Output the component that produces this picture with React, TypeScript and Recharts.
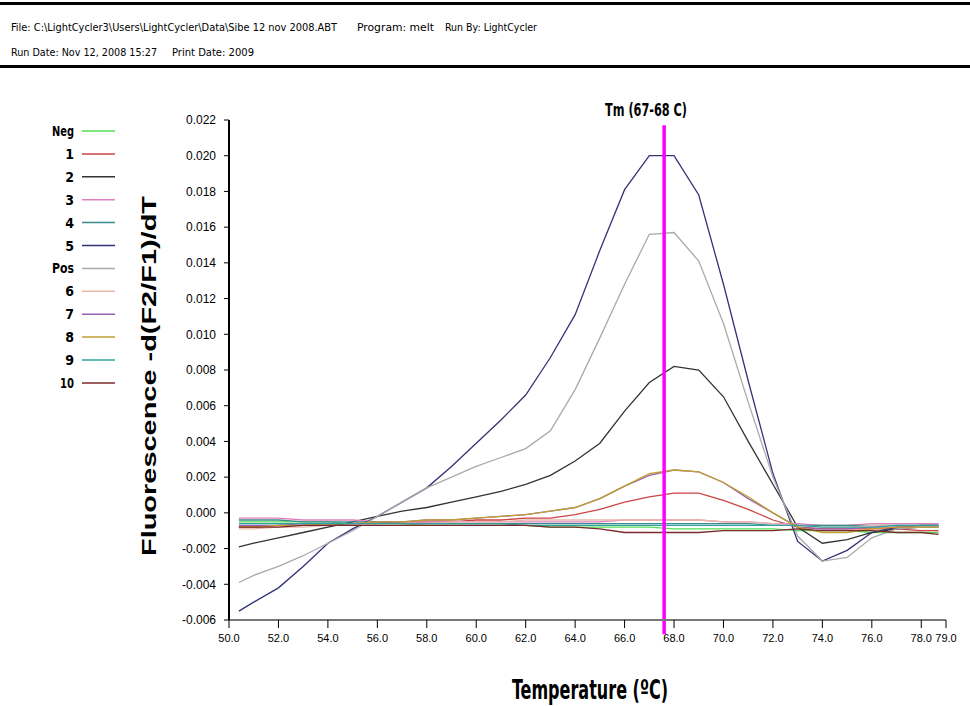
import { LineChart, Line, XAxis, YAxis, ReferenceLine } from "recharts";

// temperature (°C) of each melt reading
const temps = [50.4, 51, 52, 53, 54, 55, 56, 57, 58, 59, 60, 61, 62, 63, 64, 65, 66, 67, 68, 69, 70, 71, 72, 73, 74, 75, 76, 77, 78, 78.7];

const neg = [-0.0005, -0.0005, -0.0005, -0.0005, -0.0005, -0.0006, -0.0006, -0.0006, -0.0007, -0.0007, -0.0007, -0.0007, -0.0007, -0.0008, -0.0008, -0.0008, -0.0008, -0.0008, -0.0009, -0.0009, -0.0009, -0.0009, -0.0009, -0.001, -0.001, -0.001, -0.0011, -0.0011, -0.0011, -0.0011];
const s1 = [-0.0008, -0.0008, -0.0007, -0.0007, -0.0007, -0.0006, -0.0006, -0.0005, -0.0005, -0.0005, -0.0004, -0.0004, -0.0003, -0.0003, -0.0001, 0.0002, 0.0006, 0.0009, 0.0011, 0.0011, 0.0007, 0.0002, -0.0004, -0.0008, -0.0009, -0.0009, -0.0009, -0.0009, -0.001, -0.001];
const s2 = [-0.0019, -0.0017, -0.0014, -0.0011, -0.0008, -0.0005, -0.0002, 0.0001, 0.0003, 0.0006, 0.0009, 0.0012, 0.0016, 0.0021, 0.0029, 0.0039, 0.0057, 0.0073, 0.0082, 0.008, 0.0065, 0.004, 0.0016, -0.0008, -0.0017, -0.0015, -0.0011, -0.0009, -0.0008, -0.0008];
const s3 = [-0.0003, -0.0003, -0.0003, -0.0004, -0.0004, -0.0004, -0.0005, -0.0005, -0.0005, -0.0005, -0.0005, -0.0005, -0.0005, -0.0005, -0.0005, -0.0005, -0.0004, -0.0004, -0.0004, -0.0004, -0.0005, -0.0005, -0.0006, -0.0006, -0.0007, -0.0007, -0.0006, -0.0006, -0.0006, -0.0006];
const s4 = [-0.0004, -0.0004, -0.0004, -0.0005, -0.0005, -0.0005, -0.0005, -0.0006, -0.0006, -0.0006, -0.0006, -0.0006, -0.0006, -0.0006, -0.0006, -0.0006, -0.0006, -0.0006, -0.0006, -0.0006, -0.0006, -0.0006, -0.0007, -0.0007, -0.0007, -0.0007, -0.0007, -0.0007, -0.0007, -0.0007];
const s5 = [-0.0055, -0.005, -0.0042, -0.003, -0.0017, -0.0009, -0.0002, 0.0006, 0.0014, 0.0026, 0.0039, 0.0052, 0.0066, 0.0087, 0.0111, 0.0147, 0.0181, 0.02, 0.02, 0.0178, 0.0128, 0.0074, 0.0022, -0.0016, -0.0027, -0.0021, -0.0011, -0.0008, -0.0007, -0.0007];
const pos = [-0.0039, -0.0035, -0.003, -0.0024, -0.0017, -0.001, -0.0002, 0.0006, 0.0014, 0.002, 0.0026, 0.0031, 0.0036, 0.0046, 0.0069, 0.0098, 0.0128, 0.0156, 0.0157, 0.0141, 0.0106, 0.0062, 0.002, -0.0013, -0.0027, -0.0025, -0.0014, -0.0009, -0.0008, -0.0008];
const s6 = [-0.0009, -0.0009, -0.0008, -0.0008, -0.0007, -0.0007, -0.0006, -0.0006, -0.0006, -0.0005, -0.0005, -0.0005, -0.0004, -0.0004, -0.0004, -0.0004, -0.0004, -0.0004, -0.0004, -0.0004, -0.0005, -0.0005, -0.0006, -0.0007, -0.0008, -0.0008, -0.0007, -0.0007, -0.0007, -0.0007];
const s7 = [-0.0007, -0.0007, -0.0007, -0.0006, -0.0006, -0.0006, -0.0005, -0.0005, -0.0004, -0.0004, -0.0003, -0.0002, -0.0001, 0.0001, 0.0003, 0.0008, 0.0015, 0.0021, 0.0024, 0.0023, 0.0017, 0.0008, 0.0, -0.0008, -0.0009, -0.0009, -0.0008, -0.0008, -0.0007, -0.0007];
const s8 = [-0.0008, -0.0008, -0.0007, -0.0007, -0.0006, -0.0006, -0.0005, -0.0005, -0.0004, -0.0004, -0.0003, -0.0002, -0.0001, 0.0001, 0.0003, 0.0008, 0.0015, 0.0022, 0.0024, 0.0023, 0.0017, 0.0009, 0.0, -0.0008, -0.0011, -0.0011, -0.0009, -0.0008, -0.0008, -0.0008];
const s9 = [-0.0006, -0.0006, -0.0006, -0.0006, -0.0006, -0.0006, -0.0006, -0.0006, -0.0006, -0.0006, -0.0006, -0.0006, -0.0007, -0.0007, -0.0007, -0.0007, -0.0007, -0.0007, -0.0007, -0.0007, -0.0007, -0.0007, -0.0007, -0.0007, -0.0008, -0.0008, -0.0008, -0.0007, -0.0007, -0.0007];
const s10 = [-0.0008, -0.0008, -0.0008, -0.0007, -0.0007, -0.0007, -0.0007, -0.0007, -0.0007, -0.0007, -0.0007, -0.0007, -0.0007, -0.0008, -0.0008, -0.0009, -0.0011, -0.0011, -0.0011, -0.0011, -0.001, -0.001, -0.001, -0.0009, -0.001, -0.001, -0.001, -0.0011, -0.0011, -0.0012];

const seriesNames = ["Neg", "1", "2", "3", "4", "5", "Pos", "6", "7", "8", "9", "10"];
const seriesValues = [neg, s1, s2, s3, s4, s5, pos, s6, s7, s8, s9, s10];
const seriesColors = ["#55dd55", "#cc4444", "#333333", "#e080c0", "#3a8a8a", "#333377", "#aaaaaa", "#eab8a8", "#9960b0", "#c0a030", "#30a0a0", "#7a2a2a"];

const xTicks = [50, 52, 54, 56, 58, 60, 62, 64, 66, 68, 70, 72, 74, 76, 78, 79];
const yTicks = [-0.006, -0.004, -0.002, 0, 0.002, 0.004, 0.006, 0.008, 0.01, 0.012, 0.014, 0.016, 0.018, 0.02, 0.022];
const tm = 67.6;

const data = temps.map((t, i) => {
  const row: Record<string, number> = { t };
  seriesNames.forEach((n, k) => (row[n] = seriesValues[k][i]));
  return row;
});

const narrow = "'DejaVu Sans Condensed', 'Liberation Sans Narrow', 'Arial Narrow', sans-serif";
const arial = "'Liberation Sans', Arial, sans-serif";

// squeeze the multi-letter legend names to the reference width
const legendWidth: Record<string, number> = { Neg: 22, Pos: 22, "10": 14 };

export default function App() {
  return (
    <div style={{ position: "relative", width: 970, height: 706, background: "#fff" }}>
      <style>{"body{margin:0}"}</style>
      <LineChart
        width={970}
        height={706}
        data={data}
        margin={{ top: 120, right: 24, bottom: 56, left: 169 }}
      >
        <XAxis
          dataKey="t"
          type="number"
          domain={[50, 79]}
          ticks={xTicks}
          tickFormatter={(v: number) => v.toFixed(1)}
          height={30}
          tickSize={8}
          tickMargin={6}
          axisLine={{ stroke: "#777", strokeWidth: 2 }}
          tickLine={{ stroke: "#000" }}
          tick={{ fill: "#000", fontSize: 11, fontFamily: arial }}
          interval={0}
        />
        <YAxis
          type="number"
          domain={[-0.006, 0.022]}
          ticks={yTicks}
          tickFormatter={(v: number) => v.toFixed(3)}
          width={60}
          tickSize={5}
          tickMargin={8}
          axisLine={{ stroke: "#000", strokeWidth: 2 }}
          tickLine={{ stroke: "#000" }}
          tick={{ fill: "#000", fontSize: 12, fontFamily: arial }}
          interval={0}
        />
        {seriesNames.map((n, k) => (
          <Line
            key={n}
            dataKey={n}
            type="linear"
            stroke={seriesColors[k]}
            strokeWidth={1.3}
            dot={false}
            isAnimationActive={false}
          />
        ))}
        <ReferenceLine
          segment={[{ x: tm, y: 0.0217 }, { x: tm, y: -0.0068 }]}
          stroke="#ff00ff"
          strokeWidth={3.5}
          ifOverflow="visible"
        />
      </LineChart>
      <svg
        width={970}
        height={706}
        style={{ position: "absolute", left: 0, top: 0, pointerEvents: "none" }}
      >
        <rect x={0} y={2} width={970} height={3} fill="#000" />
        <rect x={0} y={65} width={970} height={3} fill="#000" />
        <g fontFamily={narrow} fontSize={11} fill="#000">
          <text x={11} y={31} textLength={326} lengthAdjust="spacingAndGlyphs">File: C:\LightCycler3\Users\LightCycler\Data\Sibe 12 nov 2008.ABT</text>
          <text x={357} y={31} textLength={77} lengthAdjust="spacingAndGlyphs">Program: melt</text>
          <text x={445} y={31} textLength={92} lengthAdjust="spacingAndGlyphs">Run By: LightCycler</text>
          <text x={11} y={56} textLength={146} lengthAdjust="spacingAndGlyphs">Run Date: Nov 12, 2008 15:27</text>
          <text x={172} y={56} textLength={82} lengthAdjust="spacingAndGlyphs">Print Date:  2009</text>
        </g>
        {seriesNames.map((n, k) => (
          <g key={n}>
            <text
              x={74}
              y={131 + k * 22.9 + 5}
              textAnchor="end"
              fontFamily={narrow}
              fontWeight="bold"
              fontSize={14}
              fill="#000"
              textLength={legendWidth[n]}
              lengthAdjust="spacingAndGlyphs"
            >
              {n}
            </text>
            <line x1={82} x2={115} y1={131 + k * 22.9} y2={131 + k * 22.9} stroke={seriesColors[k]} strokeWidth={1.5} />
          </g>
        ))}
        <text
          x={646}
          y={116}
          textAnchor="middle"
          fontFamily={narrow}
          fontWeight="bold"
          fontSize={17}
          textLength={82}
          lengthAdjust="spacingAndGlyphs"
        >
          Tm (67-68 C)
        </text>
        <text
          transform="translate(156,376) rotate(-90)"
          textAnchor="middle"
          fontFamily={arial}
          fontWeight="bold"
          fontSize={21}
          textLength={360}
          lengthAdjust="spacingAndGlyphs"
        >
          Fluorescence -d(F2/F1)/dT
        </text>
        <text
          x={590}
          y={699}
          textAnchor="middle"
          fontFamily={narrow}
          fontWeight="bold"
          fontSize={26}
          textLength={156}
          lengthAdjust="spacingAndGlyphs"
        >
          Temperature (ºC)
        </text>
      </svg>
    </div>
  );
}
